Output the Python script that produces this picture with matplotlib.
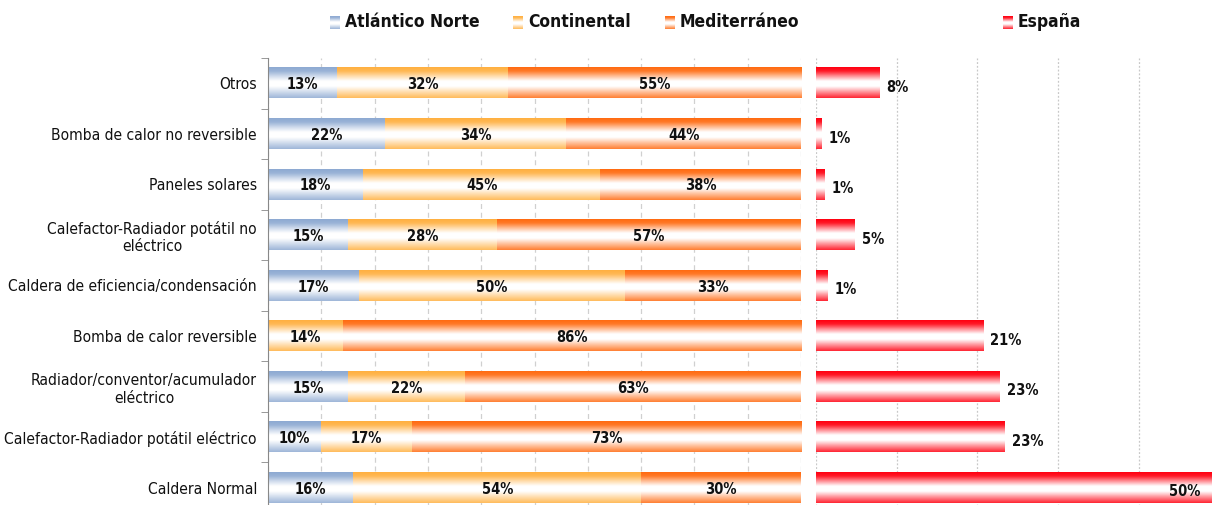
import numpy as np
import matplotlib
matplotlib.use("Agg")
import matplotlib.pyplot as plt
from matplotlib import font_manager
from matplotlib.colors import LinearSegmentedColormap, to_rgb

# buscar una fuente estrecha entre las instaladas
fuente, estiramiento = 'DejaVu Sans', 'normal'
nombres = {(f.name, f.stretch) for f in font_manager.fontManager.ttflist}
for nom, st in [('Liberation Sans Narrow', 'condensed'), ('Liberation Sans Narrow', 'normal'),
                ('DejaVu Sans', 'condensed'), ('Noto Sans', 'condensed'),
                ('Noto Sans', 'semi-condensed'), ('Roboto Condensed', 'normal'),
                ('Roboto', 'condensed'), ('Open Sans', 'condensed'),
                ('Open Sans', 'semi-condensed'), ('Noto Sans Condensed', 'normal'),
                ('DejaVu Sans Condensed', 'normal')]:
    if (nom, st) in nombres:
        fuente, estiramiento = nom, st
        break
plt.rcParams['font.family'] = [fuente, 'DejaVu Sans']
plt.rcParams['font.stretch'] = estiramiento

# datos (de arriba a abajo)
categorias = ["Otros", "Bomba de calor no reversible", "Paneles solares",
              "Calefactor-Radiador potátil no\neléctrico",
              "Caldera de eficiencia/condensación", "Bomba de calor reversible",
              "Radiador/conventor/acumulador\neléctrico",
              "Calefactor-Radiador potátil eléctrico", "Caldera Normal"]
atlantico = [13, 22, 18, 15, 17, 0, 15, 10, 16]
continental = [32, 34, 45, 28, 50, 14, 22, 17, 54]
mediterraneo = [55, 44, 38, 57, 33, 86, 63, 73, 30]
espana = [7.9, 0.7, 1.1, 4.8, 1.4, 20.7, 22.8, 23.4, 50]

series = ["Atlántico Norte", "Continental", "Mediterráneo"]
colores = ["#8eaad2", "#ffb040", "#ff6a10"]
color_esp = "#ff0010"


def degradado(color):
    c = np.array(to_rgb(color))
    w = np.ones(3)
    return LinearSegmentedColormap.from_list(
        "g", [(0.0, c), (0.12, c * 0.9 + w * 0.1), (0.45, w), (0.62, w),
              (1.0, c * 0.85 + w * 0.15)])


def pinta_barra(ax, bar, color):
    # relleno con degradado vertical (color arriba, blanco al centro)
    x0, y0 = bar.get_x(), bar.get_y()
    w, h = bar.get_width(), bar.get_height()
    if w <= 0:
        return
    grad = np.linspace(0, 1, 64).reshape(-1, 1)
    ax.imshow(grad, cmap=degradado(color), aspect='auto',
              extent=(x0, x0 + w, y0, y0 + h), origin='upper',
              interpolation='bilinear', zorder=2)


fig = plt.figure(figsize=(12.12, 5.05), dpi=100)
W, H = 1212, 505
n = len(categorias)
y = np.arange(n)[::-1]
fs_cat = 11.2
fs_val = 10.5

# panel izquierdo: 100% apilado
ax = fig.add_axes([268 / W, (505 - 513) / H, 533 / W, 455 / H])
crudos = [atlantico, continental, mediterraneo]
datos = np.array(crudos, dtype=float)
datos = datos / datos.sum(axis=0) * 100
izq = np.zeros(n)
for i, nombre in enumerate(series):
    bars = ax.barh(y, datos[i], left=izq, height=0.6, color='none',
                   edgecolor='none')
    for b, raw in zip(bars, crudos[i]):
        pinta_barra(ax, b, colores[i])
        if raw > 0:
            ax.text(b.get_x() + b.get_width() / 2, b.get_y() + b.get_height() / 2 - 0.03,
                    f"{raw}%", ha='center', va='center', fontsize=fs_val,
                    fontweight='bold', color='#111111', zorder=3)
    izq += datos[i]

ax.set_xlim(0, 100)
ax.set_ylim(-0.5, n - 0.5)
ax.set_xticks(np.arange(0, 101, 10))
ax.xaxis.grid(True, linestyle=(0, (4, 3)), color='#d0d0d0', linewidth=0.9)
ax.set_axisbelow(True)
ax.tick_params(axis='x', length=0, labelbottom=False)
ax.set_yticks(y)
ax.set_yticklabels(categorias, fontsize=fs_cat, color='#111111')
ax.set_yticks(np.arange(-0.5, n, 1), minor=True)
ax.tick_params(axis='y', which='major', length=0, pad=8)
ax.tick_params(axis='y', which='minor', length=5, color='#888888')
for s in ['top', 'right', 'bottom']:
    ax.spines[s].set_visible(False)
ax.spines['left'].set_color('#888888')
for t in ax.get_yticklabels():
    t.set_multialignment('center')

# panel derecho: España
ax2 = fig.add_axes([816 / W, (505 - 513) / H, 60 * 8.07 / W, 455 / H])
bars = ax2.barh(y, espana, height=0.6, color='none', edgecolor='none')
xmax = 60
ax2.set_xlim(0, xmax)
ax2.set_ylim(-0.5, n - 0.5)
for b, v in zip(bars, espana):
    pinta_barra(ax2, b, color_esp)
    yc = b.get_y() + b.get_height() / 2
    if v < 40:
        ax2.annotate(f"{round(v)}%", (v, yc), xytext=(5, -3),
                     textcoords='offset points', ha='left', va='center',
                     fontsize=fs_val, fontweight='bold', color='#111111')
    else:
        ax2.annotate(f"{round(v)}%", (v, yc), xytext=(-14, -3),
                     textcoords='offset points', ha='right', va='center',
                     fontsize=fs_val, fontweight='bold', color='#111111')
ax2.set_xticks(np.arange(0, xmax + 1, 10))
ax2.xaxis.grid(True, linestyle=(0, (1.5, 1.5)), color='#c8c8c8', linewidth=0.9)
ax2.set_axisbelow(True)
ax2.tick_params(length=0, labelbottom=False, labelleft=False)
for s in ax2.spines.values():
    s.set_visible(False)

# leyenda
items = [("Atlántico Norte", colores[0], 330), ("Continental", colores[1], 513),
         ("Mediterráneo", colores[2], 665), ("España", color_esp, 1003)]
for nombre, col, px in items:
    cax = fig.add_axes([px / W, (505 - 29) / H, 10 / W, 13 / H])
    cax.imshow(np.linspace(0, 1, 32).reshape(-1, 1), cmap=degradado(col),
               aspect='auto', interpolation='bilinear')
    cax.axis('off')
    fig.text((px + 15) / W, (505 - 22) / H, nombre, ha='left', va='center',
             fontsize=12.5, fontweight='bold', color='#111111')

fig.savefig("out.png", dpi=100)
